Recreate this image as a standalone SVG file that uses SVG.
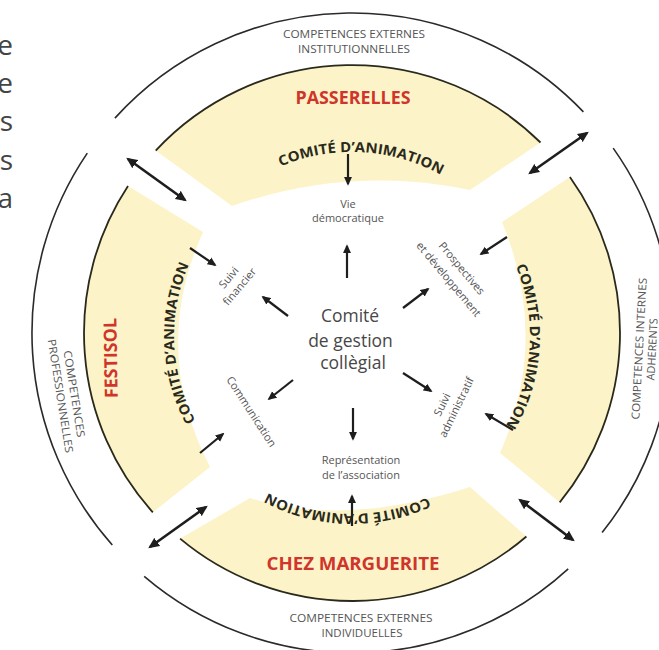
<svg xmlns="http://www.w3.org/2000/svg" width="659" height="650" viewBox="0 0 659 650">
<style>
.ring{fill:none;stroke:#2a2a2a;stroke-width:1.6}
.seg{fill:#fcf4c8;stroke:none}
.edge{fill:none;stroke:#2a2a1c;stroke-width:1.8}
.ext{font-family:"Open Sans","Liberation Sans",sans-serif;font-size:11px;fill:#555}
.lab{font-family:"Open Sans","Liberation Sans",sans-serif;font-size:11px;fill:#555}
.red{font-family:"Open Sans","Liberation Sans",sans-serif;font-weight:bold;fill:#d0352b}
.com{font-family:"Open Sans","Liberation Sans",sans-serif;font-weight:bold;font-size:14px;fill:#2a2a1c}
.ctr{font-family:"Open Sans","Liberation Sans",sans-serif;font-size:17.5px;fill:#474747}
.side{font-family:"Open Sans","Liberation Sans",sans-serif;font-size:28px;fill:#444}
.a{fill:none;stroke:#1e1e1e;stroke-width:2.2;marker-end:url(#ah)}
.d{fill:none;stroke:#1e1e1e;stroke-width:2.6;marker-start:url(#ah2);marker-end:url(#ah2)}
</style>
<defs>
<marker id="ah" viewBox="0 0 10 10" refX="8" refY="5" markerWidth="9" markerHeight="9" markerUnits="userSpaceOnUse" orient="auto-start-reverse"><path d="M0,0.5 L10,5 L0,9.5 Z" fill="#1e1e1e"/></marker>
<marker id="ah2" viewBox="0 0 10 10" refX="8" refY="5" markerWidth="11" markerHeight="11" markerUnits="userSpaceOnUse" orient="auto-start-reverse"><path d="M0,0.5 L10,5 L0,9.5 Z" fill="#1e1e1e"/></marker>
<path id="pTop" d="M192.65,244 A184,184 0 0 1 511.35,244"/>
<path id="pRight" d="M441,181.85 A178,178 0 0 1 441,490.15"/>
<path id="pBottom" d="M506.15,425 A178,178 0 0 1 197.85,425"/>
<path id="pLeft" d="M263,490.15 A178,178 0 0 1 263,181.85"/>
</defs>
<rect width="659" height="650" fill="#fff"/>

<g id="side-text">
<text class="side" x="13" y="55" text-anchor="end">e</text>
<text class="side" x="13" y="93" text-anchor="end">e</text>
<text class="side" x="13" y="131" text-anchor="end">s</text>
<text class="side" x="13" y="170" text-anchor="end">s</text>
<text class="side" x="13" y="208" text-anchor="end">a</text>
</g>

<g id="outer-ring">
<path class="ring" d="M114.9,118.1 A320,320 0 0 1 583.4,111.9"/>
<path class="ring" d="M613.2,148.1 A320,320 0 0 1 602.1,532.6"/>
<path class="ring" d="M568.2,568.9 A320,320 0 0 1 144.2,576.3"/>
<path class="ring" d="M112.3,545 A320,320 0 0 1 87.3,153.1"/>
<text class="ext" x="354" y="38" text-anchor="middle" textLength="142" lengthAdjust="spacingAndGlyphs">COMPETENCES EXTERNES</text>
<text class="ext" x="354" y="53" text-anchor="middle" textLength="112" lengthAdjust="spacingAndGlyphs">INSTITUTIONNELLES</text>
<text class="ext" x="361" y="622" text-anchor="middle" textLength="143" lengthAdjust="spacingAndGlyphs">COMPETENCES EXTERNES</text>
<text class="ext" x="362" y="637" text-anchor="middle" textLength="81" lengthAdjust="spacingAndGlyphs">INDIVIDUELLES</text>
<g transform="translate(66.5,395) rotate(81)">
<text class="ext" x="0" y="-4" text-anchor="middle" textLength="88" lengthAdjust="spacingAndGlyphs">COMPETENCES</text>
<text class="ext" x="0" y="10" text-anchor="middle" textLength="115" lengthAdjust="spacingAndGlyphs">PROFESSIONNELLES</text>
</g>
<g transform="translate(645,349) rotate(-87)">
<text class="ext" x="0" y="-2" text-anchor="middle" textLength="142" lengthAdjust="spacingAndGlyphs">COMPETENCES INTERNES</text>
<text class="ext" x="0" y="11" text-anchor="middle" textLength="62" lengthAdjust="spacingAndGlyphs">ADHERENTS</text>
</g>
</g>

<g id="seg-passerelles">
<path class="seg" d="M155.7,150.6 A268,268 0 0 1 540.5,142.5 L470,190 Q350,165 232,206 Z"/>
<path class="edge" d="M155.7,150.6 A268,268 0 0 1 540.5,142.5"/>
<text class="red" x="353" y="104" font-size="17" text-anchor="middle" textLength="115" lengthAdjust="spacingAndGlyphs">PASSERELLES</text>
<text class="com"><textPath href="#pTop" startOffset="52.5%" text-anchor="middle" textLength="166" lengthAdjust="spacingAndGlyphs">COMITÉ D’ANIMATION</textPath></text>
</g>

<g id="seg-right">
<path class="seg" d="M569.9,177 A268,268 0 0 1 559.7,502.4 L500,453 Q550,338 502,222 Z"/>
<path class="edge" d="M569.9,177 A268,268 0 0 1 559.7,502.4"/>
<text class="com"><textPath href="#pRight" startOffset="53%" text-anchor="middle" textLength="166" lengthAdjust="spacingAndGlyphs">COMITÉ D’ANIMATION</textPath></text>
</g>

<g id="seg-chez-marguerite">
<path class="seg" d="M526.4,536.5 A268,268 0 0 1 180.1,538.6 L250,498 Q344,527.5 470,487 Z"/>
<path class="edge" d="M526.4,536.5 A268,268 0 0 1 180.1,538.6"/>
<text class="red" x="353" y="570" font-size="18" text-anchor="middle" textLength="173" lengthAdjust="spacingAndGlyphs">CHEZ MARGUERITE</text>
<text class="com"><textPath href="#pBottom" startOffset="51.3%" text-anchor="middle" textLength="166" lengthAdjust="spacingAndGlyphs">COMITÉ D’ANIMATION</textPath></text>
</g>

<g id="seg-festisol">
<path class="seg" d="M152.8,512.3 A268,268 0 0 1 128,185.9 L203,232 Q150,350 210,467 Z"/>
<path class="edge" d="M152.8,512.3 A268,268 0 0 1 128,185.9"/>
<text class="red" transform="translate(117,358) rotate(-91)" x="0" y="0" font-size="18" text-anchor="middle" textLength="80" lengthAdjust="spacingAndGlyphs">FESTISOL</text>
<text class="com"><textPath href="#pLeft" startOffset="48%" text-anchor="middle" textLength="162" lengthAdjust="spacingAndGlyphs">COMITÉ D’ANIMATION</textPath></text>
</g>

<g id="center">
<text class="ctr" x="350" y="322" text-anchor="middle">Comité</text>
<text class="ctr" x="350.5" y="347" text-anchor="middle">de gestion</text>
<text class="ctr" x="353" y="369" text-anchor="middle">collègial</text>
</g>

<g id="vie-democratique">
<text class="lab" x="348" y="208" text-anchor="middle">Vie</text>
<text class="lab" x="348" y="222" text-anchor="middle">démocratique</text>
</g>
<g id="suivi-financier" transform="translate(234,282) rotate(-50)">
<text class="lab" x="0" y="-3" text-anchor="middle">Suivi</text>
<text class="lab" x="0" y="11" text-anchor="middle">financier</text>
</g>
<g id="prospectives" transform="translate(455,274) rotate(50)">
<text class="lab" x="0" y="-5" text-anchor="middle">Prospectives</text>
<text class="lab" x="0" y="12" text-anchor="middle">et développement</text>
</g>
<g id="communication" transform="translate(251.5,411.5) rotate(57)">
<text class="lab" x="0" y="4" text-anchor="middle">Communication</text>
</g>
<g id="suivi-administratif" transform="translate(450,404) rotate(-64)">
<text class="lab" x="-4" y="-3" text-anchor="middle">Suivi</text>
<text class="lab" x="0" y="11" text-anchor="middle">administratif</text>
</g>
<g id="representation">
<text class="lab" x="361" y="464" text-anchor="middle">Représentation</text>
<text class="lab" x="361" y="479" text-anchor="middle">de l’association</text>
</g>

<g id="connectors">
<line class="a" x1="348" y1="154" x2="348" y2="184"/>
<line class="a" x1="347" y1="278" x2="347" y2="246"/>
<line class="a" x1="288" y1="316" x2="263" y2="297"/>
<line class="a" x1="403" y1="308" x2="428" y2="289"/>
<line class="a" x1="293" y1="380" x2="269" y2="399"/>
<line class="a" x1="403" y1="373" x2="431" y2="391"/>
<line class="a" x1="353" y1="408" x2="353" y2="439"/>
<line class="a" x1="352" y1="526" x2="352" y2="496"/>
<line class="a" x1="190" y1="248" x2="215" y2="265"/>
<line class="a" x1="507" y1="237" x2="481" y2="254"/>
<line class="a" x1="200" y1="453" x2="223" y2="434"/>
<line class="a" x1="513" y1="430" x2="486" y2="414"/>
<line class="d" x1="128" y1="159" x2="185" y2="200"/>
<line class="d" x1="530" y1="173" x2="587" y2="133"/>
<line class="d" x1="520" y1="500" x2="573" y2="540"/>
<line class="d" x1="206" y1="507" x2="150" y2="547"/>
</g>
</svg>
